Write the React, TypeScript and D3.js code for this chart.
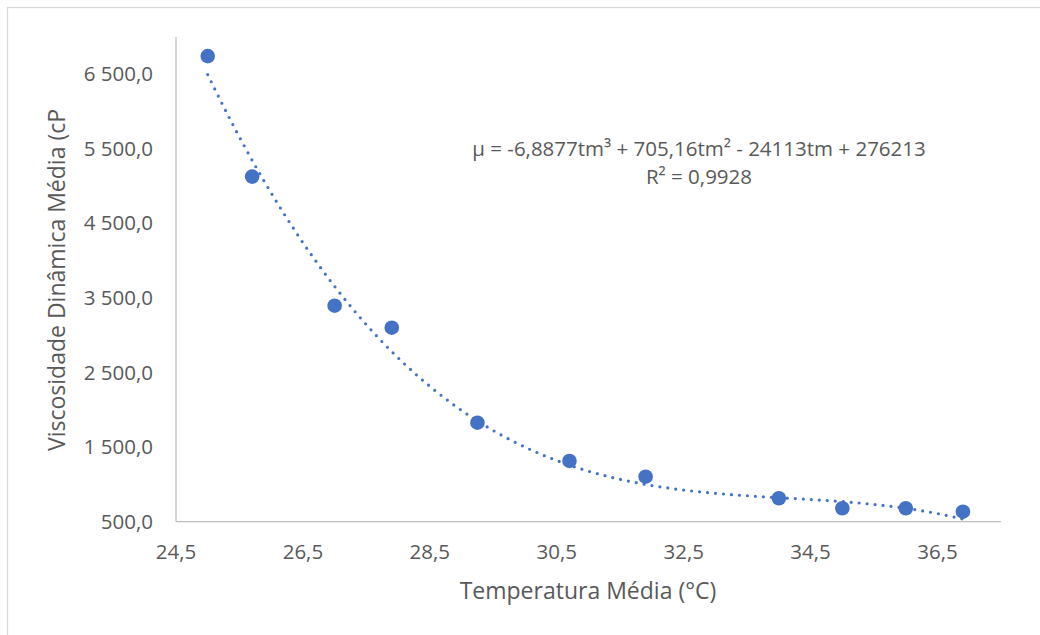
import React, { useEffect, useRef } from "react";
import * as d3 from "d3";

// mean temperature (°C) and mean dynamic viscosity (cP)
const temperatures = [25.0, 25.7, 27.0, 27.9, 29.25, 30.7, 31.9, 34.0, 35.0, 36.0, 36.9];
const viscosities = [6740, 5125, 3395, 3100, 1827, 1314, 1103, 814, 680, 680, 634];

// trendline coefficients shown on the chart (a*t^3 + b*t^2 + c*t + d)
const trendCoefs = [-6.8877, 705.16, -24113, 276213];

const xTicks = [24.5, 26.5, 28.5, 30.5, 32.5, 34.5, 36.5];
const yTicks = [500, 1500, 2500, 3500, 4500, 5500, 6500];

const equationLines = [
  "\u03bc = -6,8877tm\u00b3 + 705,16tm\u00b2 - 24113tm + 276213",
  "R\u00b2 = 0,9928",
];

const FONT = "'Open Sans', 'Noto Sans', sans-serif";
const TEXT = "#595959";
const BLUE = "#4472C4";

const App = () => {
  const ref = useRef<SVGSVGElement | null>(null);

  useEffect(() => {
    const width = 1040;
    const height = 635;
    const svg = d3.select(ref.current);
    svg.selectAll("*").remove();

    // chart area frame (only top/left edges fall inside the picture)
    svg.append("rect")
      .attr("x", 7.5).attr("y", 7.5)
      .attr("width", width + 20).attr("height", height + 20)
      .attr("fill", "#fff")
      .attr("stroke", "#D9D9D9")
      .attr("stroke-width", 1.3);

    const x = d3.scaleLinear().domain([24.5, 37.5]).range([176, 1001]);
    const y = d3.scaleLinear().domain([500, 7000]).range([521.7, 36.7]);

    const locale = d3.formatLocale({ decimal: ",", thousands: " ", grouping: [3], currency: ["", ""] });
    const fmtY = locale.format(",.1f");
    const fmtX = locale.format(".1f");

    // axes lines
    svg.append("line")
      .attr("x1", x(24.5)).attr("x2", x(24.5))
      .attr("y1", y(7000)).attr("y2", y(500))
      .attr("stroke", "#BFBFBF").attr("stroke-width", 1.3);
    svg.append("line")
      .attr("x1", x(24.5)).attr("x2", x(37.5))
      .attr("y1", y(500)).attr("y2", y(500))
      .attr("stroke", "#BFBFBF").attr("stroke-width", 1.3);

    // tick labels
    svg.selectAll(".ylab")
      .data(yTicks)
      .enter()
      .append("text")
      .attr("x", 153)
      .attr("y", d => y(d))
      .attr("dy", "0.35em")
      .attr("text-anchor", "end")
      .attr("font-family", FONT)
      .attr("font-size", 20.5)
      .attr("fill", TEXT)
      .text(d => fmtY(d));

    svg.selectAll(".xlab")
      .data(xTicks)
      .enter()
      .append("text")
      .attr("x", d => x(d))
      .attr("y", 559)
      .attr("text-anchor", "middle")
      .attr("font-family", FONT)
      .attr("font-size", 20.5)
      .attr("fill", TEXT)
      .text(d => fmtX(d));

    // axis titles
    svg.append("text")
      .attr("x", 588).attr("y", 599)
      .attr("text-anchor", "middle")
      .attr("font-family", FONT)
      .attr("font-size", 23)
      .attr("fill", TEXT)
      .text("Temperatura Média (°C)");

    svg.append("text")
      .attr("transform", "translate(65,280) rotate(-90)")
      .attr("text-anchor", "middle")
      .attr("font-family", FONT)
      .attr("font-size", 23)
      .attr("fill", TEXT)
      .text("Viscosidade Dinâmica Média (cP");

    // polynomial trendline
    const poly = (t: number) =>
      trendCoefs[0] * t * t * t + trendCoefs[1] * t * t + trendCoefs[2] * t + trendCoefs[3];
    const tMin = d3.min(temperatures) as number;
    const tMax = d3.max(temperatures) as number;
    const line = d3.line<number>()
      .x(t => x(t))
      .y(t => y(poly(t)))
      .curve(d3.curveLinear);
    svg.append("path")
      .attr("d", line(d3.range(tMin, tMax + 0.0001, (tMax - tMin) / 200)))
      .attr("fill", "none")
      .attr("stroke", BLUE)
      .attr("stroke-width", 3.2)
      .attr("stroke-linecap", "round")
      .attr("stroke-dasharray", "0 8");

    // data points
    svg.selectAll(".pt")
      .data(temperatures)
      .enter()
      .append("circle")
      .attr("cx", d => x(d))
      .attr("cy", (d, i) => y(viscosities[i]))
      .attr("r", 7.3)
      .attr("fill", BLUE);

    // equation label
    svg.selectAll(".eq")
      .data(equationLines)
      .enter()
      .append("text")
      .attr("x", 699)
      .attr("y", (d, i) => 156 + i * 28)
      .attr("text-anchor", "middle")
      .attr("font-family", FONT)
      .attr("font-size", 20.5)
      .attr("fill", TEXT)
      .text(d => d);
  }, []);

  return (
    <svg
      ref={ref}
      width={1040}
      height={635}
      style={{ position: "absolute", left: 0, top: 0, background: "#fff" }}
    />
  );
};

export default App;
